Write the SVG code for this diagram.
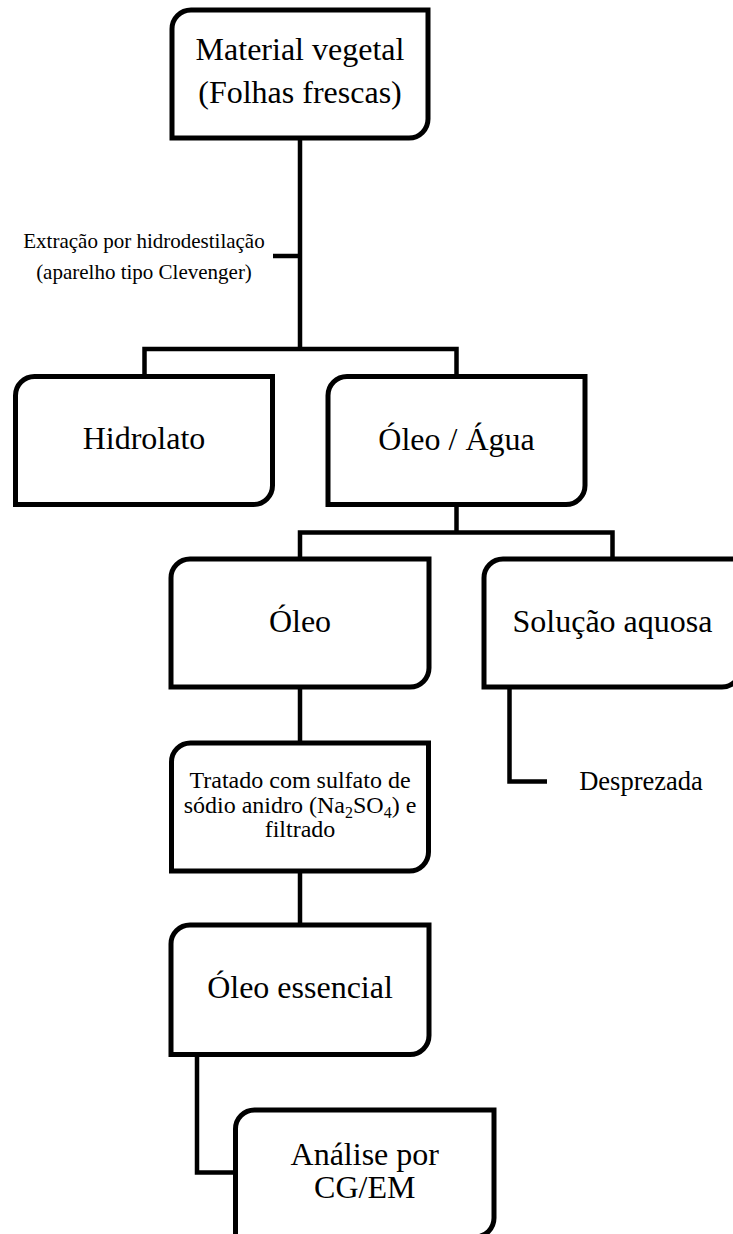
<svg xmlns="http://www.w3.org/2000/svg" width="733" height="1234" viewBox="0 0 733 1234">
<style>
.box{fill:#fff;stroke:#000;stroke-width:5;stroke-linejoin:miter}
.con{fill:none;stroke:#000;stroke-width:4.5;stroke-linejoin:miter;stroke-linecap:butt}
text{font-family:"Liberation Serif","Times New Roman",serif;fill:#000;text-anchor:middle}
.big{font-size:32px}
.mid{font-size:24px}
.sml{font-size:21px}
.des{font-size:26.5px}
</style>
<rect width="733" height="1234" fill="#fff"/>
<g id="connectors">
<path class="con" d="M300,138 V349"/>
<path class="con" d="M273,256 H300"/>
<path class="con" d="M144.5,376.5 V349 H456.5 V376.5"/>
<path class="con" d="M456.5,504.5 V532.5"/>
<path class="con" d="M300,559 V532.5 H612.5 V559"/>
<path class="con" d="M300,687 V743"/>
<path class="con" d="M509.5,687 V781.5 H547"/>
<path class="con" d="M300,871 V925"/>
<path class="con" d="M197,1054.5 V1172.5 H235.5"/>
</g>
<g id="material">
<path class="box" d="M172,138 V29 A19,19 0 0 1 191,10 H428 V119 A19,19 0 0 1 409,138 Z"/>
<text class="big" x="300" y="60">Material vegetal</text>
<text class="big" x="300" y="103">(Folhas frescas)</text>
</g>
<g id="extracao-label">
<text class="sml" x="144" y="248">Extração por hidrodestilação</text>
<text class="sml" x="144" y="279">(aparelho tipo Clevenger)</text>
</g>
<g id="hidrolato">
<path class="box" d="M15.5,504.5 V395.5 A19,19 0 0 1 34.5,376.5 H272.5 V485.5 A19,19 0 0 1 253.5,504.5 Z"/>
<text class="big" x="144" y="449">Hidrolato</text>
</g>
<g id="oleo-agua">
<path class="box" d="M328,504.5 V395.5 A19,19 0 0 1 347,376.5 H585 V485.5 A19,19 0 0 1 566,504.5 Z"/>
<text class="big" x="456.5" y="450">Óleo / Água</text>
</g>
<g id="oleo">
<path class="box" d="M171,687 V578 A19,19 0 0 1 190,559 H429 V668 A19,19 0 0 1 410,687 Z"/>
<text class="big" x="300" y="632">Óleo</text>
</g>
<g id="solucao">
<path class="box" d="M484,687 V578 A19,19 0 0 1 503,559 H741 V668 A19,19 0 0 1 722,687 Z"/>
<text class="big" x="612.5" y="632">Solução aquosa</text>
</g>
<g id="desprezada">
<text class="des" x="641" y="790">Desprezada</text>
</g>
<g id="tratado">
<path class="box" d="M171.5,871 V762 A19,19 0 0 1 190.5,743 H428.5 V852 A19,19 0 0 1 409.5,871 Z"/>
<text class="mid" x="300" y="788">Tratado com sulfato de</text>
<text class="mid" x="300" y="813">sódio anidro (Na<tspan font-size="16" dy="5">2</tspan><tspan dy="-5">SO</tspan><tspan font-size="16" dy="5">4</tspan><tspan dy="-5">) e</tspan></text>
<text class="mid" x="300" y="837">filtrado</text>
</g>
<g id="oleo-essencial">
<path class="box" d="M171,1054.5 V944 A19,19 0 0 1 190,925 H429 V1035.5 A19,19 0 0 1 410,1054.5 Z"/>
<text class="big" x="300" y="998">Óleo essencial</text>
</g>
<g id="analise">
<path class="box" d="M235.5,1237 V1129 A19,19 0 0 1 254.5,1110 H494 V1218 A19,19 0 0 1 475,1237 Z"/>
<text class="big" x="364.75" y="1165">Análise por</text>
<text class="big" x="364.75" y="1198">CG/EM</text>
</g>
</svg>
